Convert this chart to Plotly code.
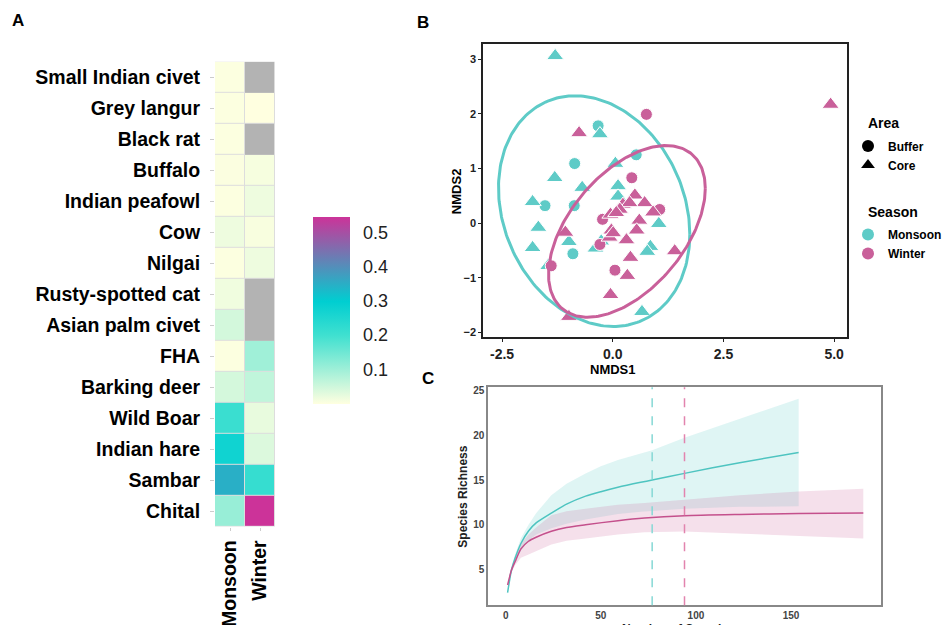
import numpy as np
import plotly.graph_objects as go

W, H = 952, 625
OFF = 8  # page body margin in the browser
FONT = "Liberation Sans"

# ---------------- Panel A data ----------------
species = ["Small Indian civet", "Grey langur", "Black rat", "Buffalo", "Indian peafowl",
           "Cow", "Nilgai", "Rusty-spotted cat", "Asian palm civet", "FHA",
           "Barking deer", "Wild Boar", "Indian hare", "Sambar", "Chital"]
seasons = ["Monsoon", "Winter"]
monsoon_vals = [0.003, 0.003, 0.003, 0.004, 0.003, 0.018, 0.003, 0.016, 0.046, 0.003,
                0.045, 0.21, 0.275, 0.35, 0.108]
winter_vals = [None, 0.0, None, 0.009, 0.018, 0.007, 0.018, None, None, 0.10,
               0.066, 0.024, 0.037, 0.215, 0.547]
cbar_ticks = [0.1, 0.2, 0.3, 0.4, 0.5]

# ---------------- Panel B data ----------------
mon_buf_x = [-0.33, -0.86, 0.53, -1.53, -0.87, -0.90]
mon_buf_y = [1.78, 1.09, 1.25, 0.32, 0.32, -0.56]
mon_core_x = [-1.30, -0.29, 0.06, -1.31, -0.69, -1.81, 0.12, 0.12, -1.68, -1.81, -0.99,
              -0.39, -0.26, 1.04, 0.85, 0.78, 0.40, 0.66, -1.46]
mon_core_y = [3.06, 1.63, 1.09, 0.83, 0.65, 0.39, 0.68, 0.49, -0.08, -0.45, -0.34,
              -0.46, -0.33, -0.01, -0.43, -0.52, -0.63, -1.62, -0.78]
win_buf_x = [0.76, 0.43, 1.06, -0.23, -0.29, -1.39, 0.05]
win_buf_y = [1.99, 0.83, 0.25, 0.07, -0.39, -0.78, -0.86]
win_core_x = [4.92, -0.76, 0.50, 0.72, 0.91, 0.23, 0.38, 0.16, -0.05, 0.08, 0.60, 0.54,
              -0.03, -0.07, 0.01, 0.31, -1.07, 0.40, 1.40, 0.33, -0.05, -0.99]
win_core_y = [2.17, 1.65, 0.51, 0.37, 0.20, 0.34, 0.37, 0.25, 0.16, 0.19, 0.05, -0.13,
              -0.13, -0.26, -0.18, -0.31, -0.17, -0.63, -0.51, -0.96, -1.31, -1.71]
# ellipse parameters: centre x, centre y, half-width x, half-height y, correlation
ell_mon = (-0.42, 0.22, 2.16, 2.11, -0.20)
ell_win = (0.32, -0.15, 1.77, 1.57, 0.50)

# ---------------- Panel C data ----------------
mon_n = [1, 3, 5, 8, 12, 16, 24, 32, 42, 50, 59, 71, 77, 94, 123, 154]
mon_s = [2.4, 4.9, 6.3, 7.9, 9.3, 10.2, 11.3, 12.3, 13.2, 13.7, 14.2, 14.75, 15.0, 15.75,
         16.95, 18.1]
mon_hi = [2.6, 5.2, 6.7, 8.5, 10.0, 11.3, 13.3, 14.6, 15.75, 16.55, 17.25, 17.95, 18.35,
          19.75, 21.85, 24.1]
mon_lo = [2.2, 4.6, 5.8, 7.1, 8.2, 8.9, 9.6, 10.1, 10.6, 10.9, 11.2, 11.45, 11.55, 11.8,
          12.0, 12.06]
win_n = [1, 3, 5, 8, 12, 16, 24, 32, 42, 59, 73, 94, 123, 154, 188]
win_s = [3.25, 4.9, 5.9, 7.3, 8.15, 8.6, 9.27, 9.7, 10.0, 10.46, 10.76, 11.02, 11.15, 11.25, 11.32]
win_hi = [3.4, 5.2, 6.3, 7.9, 8.9, 9.7, 11.05, 11.5, 11.8, 12.25, 12.43, 12.8, 13.3, 13.73, 14.03]
win_lo = [3.1, 4.6, 5.5, 6.3, 6.67, 7.1, 7.8, 8.2, 8.46, 8.9, 9.15, 9.25, 8.98, 8.72, 8.45]
mon_ref_n = 77
win_ref_n = 94

TEAL = "#5ECBC7"
PINK = "#C9609A"


def px_x(p):
    return (p - OFF) / W


def px_y(p):
    return 1 - (p - OFF) / H


fig = go.Figure()

# ---------- Panel A heatmap ----------
z = [[(np.nan if v is None else v) for v in (m, w)] for m, w in zip(monsoon_vals, winter_vals)]
z_na = [[np.nan, (1 if w is None else np.nan)] for w in winter_vals]
cscale = [[0.0, "#FFFFE0"], [0.2 / 0.547, "#40E0D0"], [0.3 / 0.547, "#00CED1"],
          [1.0, "#CC3399"]]
fig.add_trace(go.Heatmap(
    z=z, x=seasons, y=species, colorscale=cscale, zmin=0, zmax=0.547,
    xgap=1, ygap=1, xaxis="x", yaxis="y", hoverinfo="skip",
    colorbar=dict(x=px_x(313), xanchor="left", xpad=0, ypad=0, thickness=37,
                  len=187, lenmode="pixels", y=px_y(309.5), yanchor="middle",
                  tickvals=cbar_ticks, ticks="outside", ticklen=10, tickcolor="white",
                  outlinewidth=0, tickfont=dict(family=FONT, size=18, color="#222"))))
fig.add_trace(go.Heatmap(
    z=z_na, x=seasons, y=species, colorscale=[[0, "#B3B3B3"], [1, "#B3B3B3"]],
    showscale=False, xgap=1, ygap=0, xaxis="x", yaxis="y", hoverinfo="skip"))

# ---------- Panel B scatter ----------
groups = [(mon_buf_x, mon_buf_y, TEAL, "circle", 12),
          (mon_core_x, mon_core_y, TEAL, "triangle-up", 15),
          (win_buf_x, win_buf_y, PINK, "circle", 12),
          (win_core_x, win_core_y, PINK, "triangle-up", 15)]
for gx, gy, col, sym, sz in groups:
    fig.add_trace(go.Scatter(x=gx, y=gy, mode="markers", xaxis="x2", yaxis="y2",
                             marker=dict(color=col, symbol=sym, size=sz,
                                         line=dict(color="white", width=1)),
                             showlegend=False, hoverinfo="skip"))
t = np.linspace(0, 2 * np.pi, 240)
for (cx, cy, sx, sy, rho), col in [(ell_mon, TEAL), (ell_win, PINK)]:
    ex = cx + sx * np.cos(t)
    ey = cy + sy * (rho * np.cos(t) + np.sqrt(1 - rho ** 2) * np.sin(t))
    fig.add_trace(go.Scatter(x=ex, y=ey, mode="lines", xaxis="x2", yaxis="y2",
                             line=dict(color=col, width=3), showlegend=False,
                             hoverinfo="skip"))

# legend keys
for name, sym in [("Buffer", "circle"), ("Core", "triangle-up")]:
    fig.add_trace(go.Scatter(x=[None], y=[None], mode="markers", name=name,
                             xaxis="x2", yaxis="y2", legend="legend",
                             marker=dict(color="black", symbol=sym, size=12)))
for name, col in [("Monsoon", TEAL), ("Winter", PINK)]:
    fig.add_trace(go.Scatter(x=[None], y=[None], mode="markers", name=name,
                             xaxis="x2", yaxis="y2", legend="legend2",
                             marker=dict(color=col, symbol="circle", size=12)))

# ---------- Panel C rarefaction ----------
for n, lo, hi, fillc in [(mon_n, mon_lo, mon_hi, "rgba(94,204,200,0.2)"),
                         (win_n, win_lo, win_hi, "rgba(204,102,153,0.2)")]:
    fig.add_trace(go.Scatter(x=list(n) + list(n)[::-1], y=list(hi) + list(lo)[::-1],
                             fill="toself", fillcolor=fillc, line=dict(width=0),
                             mode="lines", xaxis="x3", yaxis="y3", showlegend=False,
                             hoverinfo="skip"))
for n, s, col in [(mon_n, mon_s, "#4EC4C0"), (win_n, win_s, "#C4508C")]:
    fig.add_trace(go.Scatter(x=n, y=s, mode="lines",
                             line=dict(color=col, width=1.5, shape="spline", smoothing=0.6),
                             xaxis="x3", yaxis="y3", showlegend=False, hoverinfo="skip"))

shapes = [
    dict(type="rect", xref="x domain", yref="y domain", x0=0, x1=1, y0=0, y1=1,
         fillcolor="#DDDDDD", line=dict(width=0), layer="below"),
    dict(type="line", xref="x3", yref="y3 domain", x0=mon_ref_n, x1=mon_ref_n, y0=0, y1=1,
         line=dict(color="#86D8D5", width=1.5, dash="dash")),
    dict(type="line", xref="x3", yref="y3 domain", x0=win_ref_n, x1=win_ref_n, y0=0, y1=1,
         line=dict(color="#E284AE", width=1.5, dash="dash")),
]

bold = dict(family=FONT, weight="bold")


def ann(text, x, y, size, angle=0, color="black", xanchor="center", yanchor="middle"):
    return dict(text=text, x=px_x(x), y=px_y(y), xref="paper", yref="paper",
                showarrow=False, textangle=angle, xanchor=xanchor, yanchor=yanchor,
                font=dict(family=FONT, size=size, color=color, weight="bold"))


annotations = [
    ann("A", 18, 19, 17),
    ann("B", 423, 21, 17),
    ann("C", 428, 378, 17),
    ann("NMDS2", 456, 190, 13, angle=-90),
    ann("NMDS1", 613, 369, 13),
    ann("Species Richness", 463, 497, 12, angle=-90, color="#222"),
    ann("Number of Samples", 678, 621, 12, color="#222", yanchor="top"),
    ann("Area", 866, 122, 14, xanchor="left"),
    ann("Season", 866, 211, 14, xanchor="left"),
]

fig.update_layout(
    width=W, height=H, margin=dict(l=0, r=0, t=0, b=0),
    paper_bgcolor="white", plot_bgcolor="white",
    font=dict(family=FONT, color="black"),
    shapes=shapes, annotations=annotations,
    xaxis=dict(domain=[px_x(215), px_x(275)], type="category", tickangle=-90,
               showgrid=False, zeroline=False, ticks="outside", ticklen=3,
               tickcolor="#cccccc", ticklabelstandoff=2,
               tickfont=dict(size=19.5, color="black", **bold)),
    yaxis=dict(domain=[px_y(527), px_y(60)], type="category", autorange="reversed",
               showgrid=False, zeroline=False, ticks="outside", ticklen=4,
               tickcolor="#cccccc", ticklabelstandoff=6,
               tickfont=dict(size=19.5, color="black", **bold)),
    xaxis2=dict(domain=[px_x(483), px_x(847)], range=[-2.93, 5.29], anchor="y2",
                tickvals=[-2.5, 0, 2.5, 5.0], ticktext=["-2.5", "0.0", "2.5", "5.0"],
                showgrid=False, zeroline=False, showline=True, mirror=True,
                linecolor="#222", linewidth=1.5, ticks="outside", ticklen=3,
                tickcolor="#222", tickfont=dict(size=14, color="#222", **bold)),
    yaxis2=dict(domain=[px_y(337), px_y(42)], range=[-2.09, 3.28], anchor="x2",
                tickvals=[-2, -1, 0, 1, 2, 3],
                showgrid=False, zeroline=False, showline=True, mirror=True,
                linecolor="#222", linewidth=1.5, ticks="outside", ticklen=3,
                tickcolor="#222", tickfont=dict(size=11, color="#222", **bold)),
    xaxis3=dict(domain=[px_x(488), px_x(881)], range=[-9.3, 197.3], anchor="y3",
                tickvals=[0, 50, 100, 150],
                showgrid=False, zeroline=False, showline=True, mirror=True,
                linecolor="#888", linewidth=1.5, ticks="", ticklabelstandoff=0,
                tickfont=dict(size=10, color="#444", **bold)),
    yaxis3=dict(domain=[px_y(606), px_y(387)], range=[1.0, 25.4], anchor="x3",
                tickvals=[5, 10, 15, 20, 25],
                showgrid=False, zeroline=False, showline=True, mirror=True,
                linecolor="#888", linewidth=1.5, ticks="",
                tickfont=dict(size=10, color="#444", **bold)),
    legend=dict(x=px_x(848), y=px_y(130), xanchor="left", yanchor="top",
                font=dict(size=12, **bold), itemwidth=30, tracegroupgap=0,
                bgcolor="rgba(0,0,0,0)"),
    legend2=dict(x=px_x(848), y=px_y(219), xanchor="left", yanchor="top",
                 font=dict(size=12, **bold), itemwidth=30, tracegroupgap=0,
                 bgcolor="rgba(0,0,0,0)"),
)

fig.write_html("out.html")
